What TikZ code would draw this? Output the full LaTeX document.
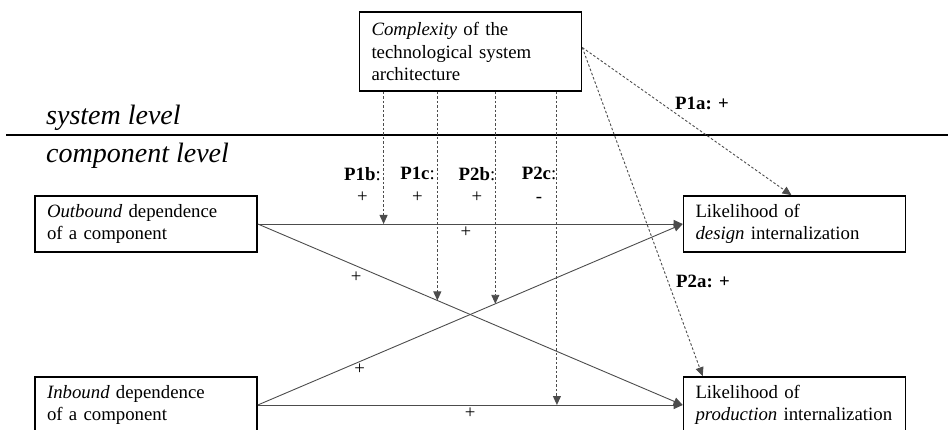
\documentclass[tikz,border=0pt]{standalone}
\usepackage{fontspec}
\setmainfont{Liberation Serif}
\usetikzlibrary{positioning,arrows.meta,calc}

\begin{document}
\begin{tikzpicture}[
  x=1pt, y=-1pt,
  font=\fontsize{18.8}{22.7}\selectfont,
  construct/.style={draw, line width=1.6pt, align=left, text width=198pt, inner xsep=12pt, minimum height=56pt},
  effect/.style={draw=black!70, line width=0.9pt, -{Triangle[length=9pt,width=8pt]}},
  moderator/.style={draw=black!70, line width=0.9pt, dash pattern=on 2.5pt off 2pt, -{Triangle[length=9pt,width=8pt]}},
  sign/.style={inner sep=2pt},
  prop/.style={align=center, inner sep=0pt},
  levellabel/.style={anchor=base west, inner sep=0pt, font=\fontsize{28}{32}\selectfont\itshape}
]
\useasboundingbox (0,0) rectangle (948,430);

% system level construct
\node[construct, minimum height=79pt] (cplx) at (470.5,51.5) {\textit{Complexity} of the\\technological system\\architecture};

% level separator
\coordinate (sepl) at (6,135);
\coordinate (sepr) at (948,135);
\draw[line width=1.6pt] (sepl) -- (sepr);
\node[levellabel] (syslvl) at (46,125) {system level};
\node[levellabel] (complvl) at (46,163) {component level};

% component level constructs
\node[construct] (outb) at (146,224) {\textit{Outbound} dependence\\of a component};
\node[construct] (inb) at (146,405) {\textit{Inbound} dependence\\of a component};
\node[construct] (design) at (794.5,224) {Likelihood of\\\textit{design} internalization};
\node[construct] (prod) at (794.5,405) {Likelihood of\\\textit{production} internalization};

% direct effects
\draw[effect] (outb.east) -- coordinate[pos=0.296] (m1b) node[sign, below, pos=0.49] (s1) {+} (design.west);
\draw[effect] (outb.east) -- coordinate[pos=0.4225] (m1c) node[sign, below left, pos=0.25] (s2) {+} (prod.west);
\draw[effect] (inb.east) -- coordinate[pos=0.559] (m2b) node[sign, below, pos=0.24] (s3) {+} (design.west);
\draw[effect] (inb.east) -- coordinate[pos=0.704] (m2c) node[sign, below, pos=0.5] (s4) {+} (prod.west);

% moderating effects
\draw[moderator] (m1b |- cplx.south) -- (m1b);
\draw[moderator] (m1c |- cplx.south) -- (m1c);
\draw[moderator] (m2b |- cplx.south) -- (m2b);
\draw[moderator] (m2c |- cplx.south) -- (m2c);
\node[prop] (p1b) at (362.5,185) {\textbf{P1b}:\\+};
\node[prop] (p1c) at (417.5,185) {\textbf{P1c}:\\+};
\node[prop] (p2b) at (477,185) {\textbf{P2b}:\\+};
\node[prop] (p2c) at (539,185) {\textbf{P2c}:\\-};

% system level effects
\draw[moderator] ([yshift=4pt]cplx.east) -- ([xshift=-3pt]design.north);
\draw[moderator] ([yshift=4pt]cplx.east) -- ([xshift=20pt]prod.north west);
\node[prop] (p1a) at (702,103) {\textbf{P1a: +}};
\node[prop] (p2a) at (703,281) {\textbf{P2a: +}};
\end{tikzpicture}
\end{document}
